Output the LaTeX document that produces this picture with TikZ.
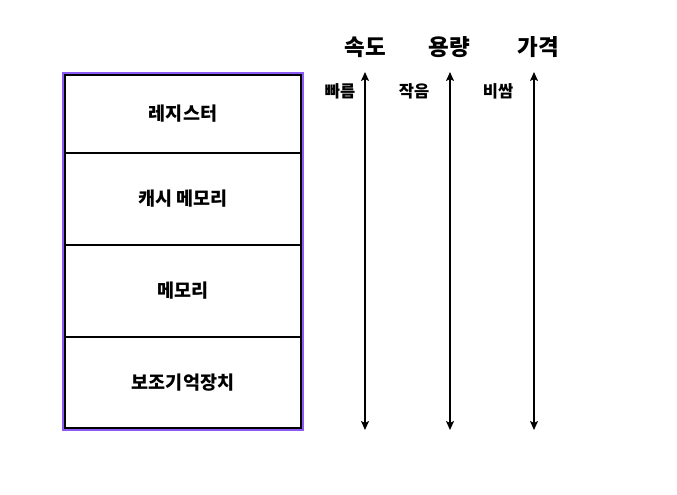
\documentclass[tikz,border=0pt]{standalone}
\usepackage{fontspec}
\newfontfamily\kr{Noto Sans CJK KR Black}
\usetikzlibrary{arrows.meta}
\begin{document}
\begin{tikzpicture}[x=1pt,y=-1pt,
  layer/.style={draw=black,line width=2pt,minimum width=236pt,inner sep=0pt,font=\kr\fontsize{18.5}{18.5}\selectfont},
  head/.style={font=\kr\fontsize{22.5}{22.5}\selectfont,inner sep=0pt},
  lbl/.style={font=\kr\fontsize{16.5}{16.5}\selectfont,inner sep=0pt},
  axis/.style={line width=1.5pt,{Stealth[length=9pt,width=8pt,inset=2pt]}-{Stealth[length=9pt,width=8pt,inset=2pt]}}]
\useasboundingbox (0,0) rectangle (677,495);
\fill[white] (0,0) rectangle (677,495);
\draw[draw={rgb,255:red,140;green,90;blue,245},line width=2pt] (63,73) rectangle (303,430);
\node[layer,minimum height=78pt] (r1) at (183,114) {레지스터};
\node[layer,minimum height=92pt] (r2) at (183,199) {캐시 메모리};
\node[layer,minimum height=92pt] (r3) at (183,291) {메모리};
\node[layer,minimum height=91pt] (r4) at (183,382.5) {보조기억장치};
\node[head] (h1) at (365,47) {속도};
\node[head] (h2) at (449,47) {용량};
\node[head] (h3) at (538,47) {가격};
\coordinate (a1t) at (365,72); \coordinate (a1b) at (365,430);
\coordinate (a2t) at (450,72); \coordinate (a2b) at (450,430);
\coordinate (a3t) at (534,72); \coordinate (a3b) at (534,430);
\draw[axis] (a1t) -- (a1b);
\draw[axis] (a2t) -- (a2b);
\draw[axis] (a3t) -- (a3b);
\node[lbl] (l1) at (340,91) {빠름};
\node[lbl] (l2) at (414,91) {작음};
\node[lbl] (l3) at (498,91) {비쌈};
\end{tikzpicture}
\end{document}
